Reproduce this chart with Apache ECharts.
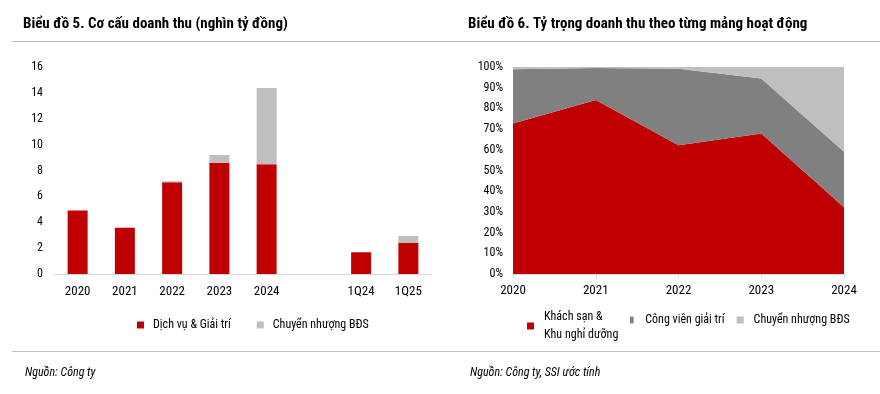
<!DOCTYPE html>
<html><head><meta charset="utf-8">
<script src="https://cdn.jsdelivr.net/npm/echarts@6/dist/echarts.min.js"></script>
<style>html,body{margin:0;padding:0;background:#fff}#c{width:880px;height:394px}</style>
</head><body><div id="c"></div>
<script>
// Chart 5 data
var cats5 = ['2020', '2021', '2022', '2023', '2024', '', '1Q24', '1Q25'];
var dichVu = [4.9, 3.58, 7.09, 8.6, 8.48, null, 1.68, 2.42];
var chuyenNhuong5 = [0, 0, 0.08, 0.6, 5.9, null, 0, 0.52];
// Chart 6 data (%)
var cats6 = ['2020', '2021', '2022', '2023', '2024'];
var khachSan = [72.7, 84.0, 62.2, 67.9, 32.3];
var congVien = [26.2, 15.5, 37.0, 26.6, 26.7];
var chuyenNhuong6 = [1.1, 0.5, 0.8, 5.5, 41.0];

var NARROW = "'Liberation Sans Narrow','Arial Narrow','Roboto Condensed','Liberation Sans',sans-serif";
var RED = '#C00000', DGREY = '#808080', LGREY = '#BFBFBF';
var LEG_TEXT = {fontFamily: NARROW, fontSize: 12, color: '#000', lineHeight: 18, padding: [0, 0, 0, 5]};

var chart = echarts.init(document.getElementById('c'));
chart.setOption({
  animation: false,
  textStyle: {fontFamily: NARROW, color: '#000'},
  title: [
    {text: 'Biểu đồ 5. Cơ cấu doanh thu (nghìn tỷ đồng)', left: 18, top: 12,
     textStyle: {fontFamily: NARROW, fontSize: 15, fontWeight: 'bold', color: '#000'}},
    {text: 'Biểu đồ 6. Tỷ trọng doanh thu theo từng mảng hoạt động', left: 463, top: 12,
     textStyle: {fontFamily: NARROW, fontSize: 15, fontWeight: 'bold', color: '#000'}},
    {text: 'Nguồn: Công ty', left: 20, top: 362,
     textStyle: {fontFamily: NARROW, fontSize: 12, fontStyle: 'italic', fontWeight: 'normal', color: '#000'}},
    {text: 'Nguồn: Công ty, SSI ước tính', left: 465, top: 362,
     textStyle: {fontFamily: NARROW, fontSize: 12, fontStyle: 'italic', fontWeight: 'normal', color: '#000'}}
  ],
  graphic: [
    {type: 'line', shape: {x1: 12, y1: 41.5, x2: 880, y2: 41.5}, style: {stroke: '#C0C0C0', lineWidth: 1}},
    {type: 'line', shape: {x1: 12, y1: 351.5, x2: 880, y2: 351.5}, style: {stroke: '#C0C0C0', lineWidth: 1}}
  ],
  legend: [
    {left: 132, top: 314, itemWidth: 7, itemHeight: 7, itemGap: 26, icon: 'rect',
     data: ['Dịch vụ & Giải trí', 'Chuyển nhượng BĐS'],
     textStyle: {fontFamily: NARROW, fontSize: 12, color: '#000', padding: [0, 0, 0, 4]}},
    {left: 522, top: 303, itemWidth: 7, itemHeight: 7,
     data: [{name: 'Khách sạn &\nKhu nghỉ dưỡng', icon: 'rect'}],
     textStyle: LEG_TEXT},
    {left: 625, top: 306, itemWidth: 7, itemHeight: 7, itemGap: 12,
     data: [{name: 'Công viên giải trí', icon: 'path://M0 0H1V2H0Z'},
            {name: 'Chuyển nhượng BĐS ', icon: 'rect'}],
     textStyle: LEG_TEXT}
  ],
  grid: [
    {left: 54, right: 448, top: 67, bottom: 120},
    {left: 513, right: 36, top: 67, bottom: 120}
  ],
  xAxis: [
    {type: 'category', gridIndex: 0, data: cats5,
     axisLine: {lineStyle: {color: '#D9D9D9'}}, axisTick: {show: false},
     axisLabel: {color: '#000', fontSize: 13, margin: 11, fontFamily: NARROW}},
    {type: 'category', gridIndex: 1, data: cats6, boundaryGap: false,
     axisLine: {lineStyle: {color: '#D9D9D9'}}, axisTick: {show: true, length: 4, lineStyle: {color: '#D9D9D9'}},
     axisLabel: {color: '#000', fontSize: 13, margin: 10, fontFamily: NARROW}}
  ],
  yAxis: [
    {type: 'value', gridIndex: 0, min: 0, max: 16, interval: 2,
     splitLine: {show: false}, axisLine: {show: false}, axisTick: {show: false},
     axisLabel: {color: '#000', fontSize: 12, margin: 11, fontFamily: NARROW}},
    {type: 'value', gridIndex: 1, min: 0, max: 100, interval: 10,
     splitLine: {show: false}, axisLine: {show: false}, axisTick: {show: false},
     axisLabel: {color: '#000', fontSize: 12, margin: 10, formatter: '{value}%', fontFamily: NARROW}}
  ],
  series: [
    {name: 'Dịch vụ & Giải trí', type: 'bar', stack: 's5', xAxisIndex: 0, yAxisIndex: 0,
     data: dichVu, barWidth: 20, itemStyle: {color: RED}},
    {name: 'Chuyển nhượng BĐS', type: 'bar', stack: 's5', xAxisIndex: 0, yAxisIndex: 0,
     data: chuyenNhuong5, barWidth: 20, itemStyle: {color: LGREY}},
    {name: 'Khách sạn &\nKhu nghỉ dưỡng', type: 'line', stack: 's6', xAxisIndex: 1, yAxisIndex: 1,
     data: khachSan, symbol: 'none', lineStyle: {width: 0}, itemStyle: {color: RED},
     areaStyle: {color: RED, opacity: 1}},
    {name: 'Công viên giải trí', type: 'line', stack: 's6', xAxisIndex: 1, yAxisIndex: 1,
     data: congVien, symbol: 'none', lineStyle: {width: 0}, itemStyle: {color: DGREY},
     areaStyle: {color: DGREY, opacity: 1}},
    {name: 'Chuyển nhượng BĐS ', type: 'line', stack: 's6', xAxisIndex: 1, yAxisIndex: 1,
     data: chuyenNhuong6, symbol: 'none', lineStyle: {width: 0}, itemStyle: {color: LGREY},
     areaStyle: {color: LGREY, opacity: 1}}
  ]
});
</script></body></html>
